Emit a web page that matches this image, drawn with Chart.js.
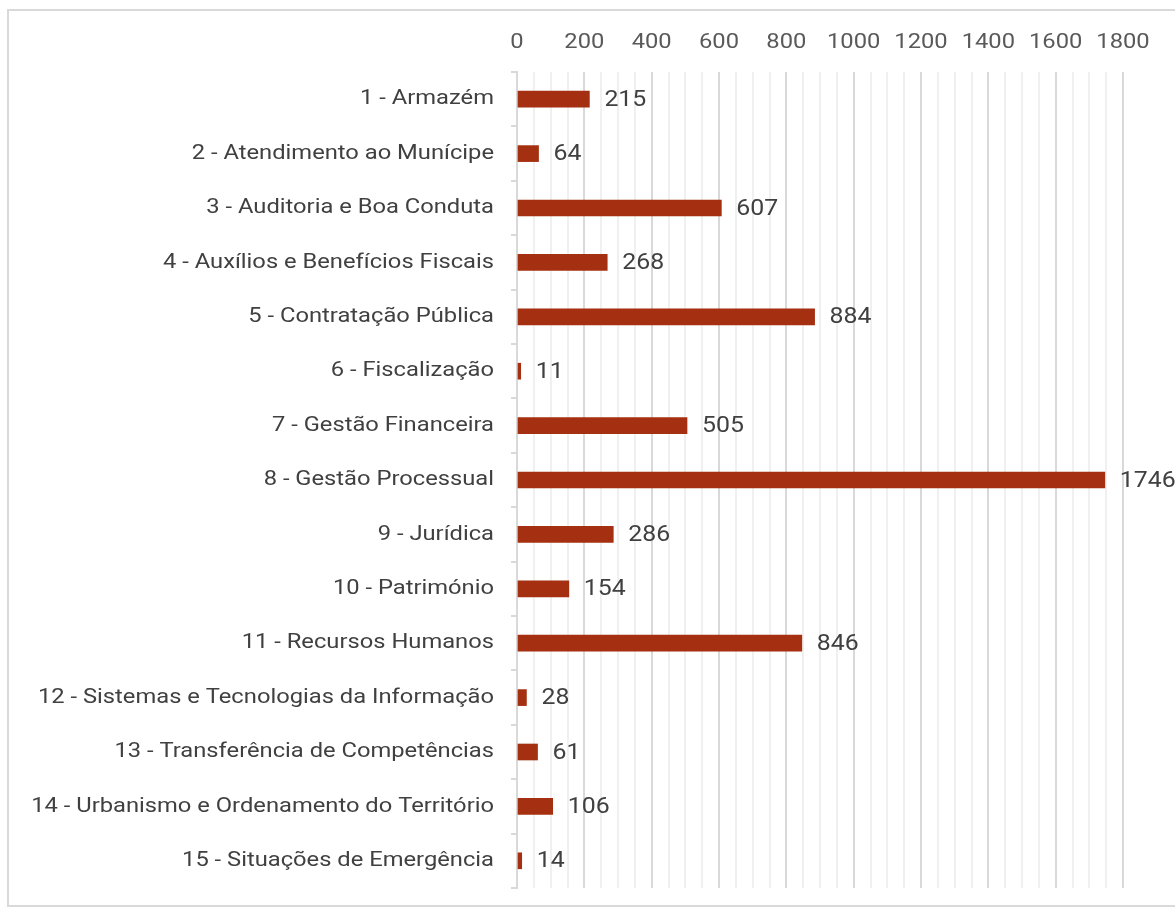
<!DOCTYPE html>
<html>
<head>
<meta charset="utf-8">
<script src="https://cdn.jsdelivr.net/npm/chart.js@4"></script>
<style>
  html, body { margin: 0; padding: 0; background: #fff; overflow: hidden; }
  #frame { position: absolute; left: 7px; top: 9px; width: 1200px; height: 894px; border: 2px solid #d9d9d9; }
  #wrap { position: absolute; left: 0; top: 0; width: 1175px; height: 910px; }
</style>
</head>
<body>
<div id="frame"></div>
<div id="wrap"><canvas id="chart"></canvas></div>
<script>
// categories and counts, top to bottom
const categories = [
  '1 - Armazém',
  '2 - Atendimento ao Munícipe',
  '3 - Auditoria e Boa Conduta',
  '4 - Auxílios e Benefícios Fiscais',
  '5 - Contratação Pública',
  '6 - Fiscalização',
  '7 - Gestão Financeira',
  '8 - Gestão Processual',
  '9 - Jurídica',
  '10 - Património',
  '11 - Recursos Humanos',
  '12 - Sistemas e Tecnologias da Informação',
  '13 - Transferência de Competências',
  '14 - Urbanismo e Ordenamento do Território',
  '15 - Situações de Emergência'
];
const counts = [215, 64, 607, 268, 884, 11, 505, 1746, 286, 154, 846, 28, 61, 106, 14];
const xMax = 1800;
const xMajorStep = 200;
const xMinorStep = 50;

const FONT = 'Roboto, "Noto Sans", sans-serif';
const TEXT_STRETCH = 1.13; // source text is a bit wider than plain Roboto

const canvas = document.getElementById('chart');
const ctx = canvas.getContext('2d');
// widen all text around its anchor point (keeps left/center/right alignment)
const baseFillText = ctx.fillText.bind(ctx);
ctx.fillText = function (text, x, y) {
  this.save();
  this.translate(x, y);
  this.scale(TEXT_STRETCH, 1);
  baseFillText(text, 0, 0);
  this.restore();
};

// value labels to the right of each bar
const valueLabels = {
  id: 'valueLabels',
  afterDatasetsDraw(chart) {
    const c = chart.ctx;
    const meta = chart.getDatasetMeta(0);
    c.save();
    c.font = '22px ' + FONT;
    c.fillStyle = '#404040';
    c.textAlign = 'left';
    c.textBaseline = 'middle';
    meta.data.forEach((bar, i) => {
      c.fillText(String(counts[i]), bar.x + 15, bar.y + 1);
    });
    c.restore();
  }
};

new Chart(canvas, {
  type: 'bar',
  data: {
    labels: categories,
    datasets: [{
      data: counts,
      backgroundColor: '#A52F11',
      barThickness: 16
    }]
  },
  options: {
    indexAxis: 'y',
    responsive: true,
    maintainAspectRatio: false,
    animation: false,
    layout: { padding: { top: 0, right: 52, bottom: 22, left: 0 } },
    plugins: {
      legend: { display: false },
      tooltip: { enabled: false }
    },
    scales: {
      x: {
        position: 'top',
        min: 0,
        max: xMax,
        afterFit(scale) { scale.height = 72; },
        ticks: {
          stepSize: xMinorStep,
          autoSkip: false,
          maxRotation: 0,
          padding: 17,
          color: '#595959',
          font: { family: FONT, size: 21 },
          callback: v => (v % xMajorStep === 0 ? String(v) : '')
        },
        grid: {
          drawTicks: false,
          color: c => (c.tick && c.tick.value % xMajorStep === 0 ? '#d9d9d9' : '#f0f0f0'),
          lineWidth: 2
        },
        border: { display: false }
      },
      y: {
        afterFit(scale) {
          scale.width = 517;
          scale.paddingTop = 0;
          scale.paddingBottom = 0;
        },
        ticks: {
          padding: 17,
          color: '#404040',
          font: { family: FONT, size: 21 }
        },
        grid: {
          drawOnChartArea: false,
          tickLength: 6,
          color: '#d9d9d9',
          lineWidth: 2
        },
        border: { display: true, color: '#d9d9d9', width: 2 }
      }
    }
  },
  plugins: [valueLabels]
});
</script>
</body>
</html>
